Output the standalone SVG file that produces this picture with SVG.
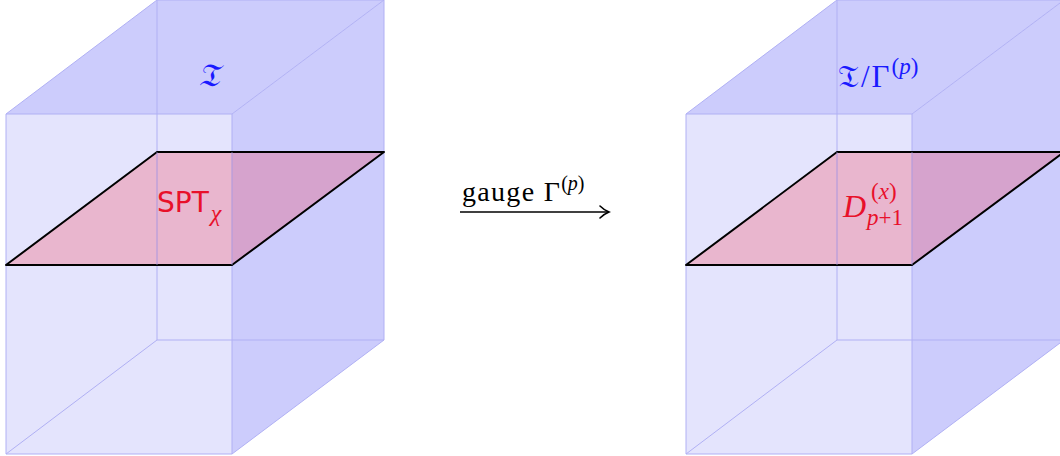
<svg xmlns="http://www.w3.org/2000/svg" width="1060" height="456" viewBox="0 0 1060 456">
<style>
.front{fill:#e4e4fd}
.side{fill:#ccccfc}
.edge{fill:none;stroke:#b0b0f4;stroke-width:1}
.plane{fill:#ff1020;fill-opacity:0.21;stroke:#000;stroke-width:2;stroke-linejoin:round}
.serif{font-family:"Liberation Serif","DejaVu Serif",serif}
.lbl{fill:#1a1aff}
.red{fill:#e8102a}
.sup{letter-spacing:0}
</style>
<defs>
<marker id="arr" markerWidth="12" markerHeight="14" refX="10" refY="7" orient="auto" markerUnits="userSpaceOnUse">
<path d="M1,1 Q5,5 10,7 Q5,9 1,13" fill="none" stroke="#000" stroke-width="1.6" stroke-linecap="round"/>
</marker>
</defs>
<g id="cube-left">
<rect class="front" x="6" y="114" width="226" height="340"/>
<polygon class="side" points="6,114 157,0 384,0 232,114"/>
<polygon class="side" points="232,114 384,0 384,340 232,454"/>
<path class="edge" d="M6,114 L157,0 L384,0 L232,114 Z M232,114 V454 M384,0 V340 L232,454 M6,114 V454 H232 M157,0 V340 H384 M157,340 L6,454"/>
<polygon class="plane" points="6,265 157,152 384,152 232,265"/>
<path class="edge" d="M157,152 V265 M232,152 V265" stroke-opacity="0.6"/>
<text class="serif lbl" x="208" y="86" font-size="32" text-anchor="middle" font-style="italic">𝔗</text>
<text x="157" y="212" font-family="'DejaVu Sans',sans-serif" font-size="28" class="red">SPT<tspan class="serif" font-style="italic" font-size="24" dy="9" dx="2">χ</tspan></text>
</g>
<g id="cube-right">
<rect class="front" x="686" y="114" width="226" height="340"/>
<polygon class="side" points="686,114 837,0 1064,0 912,114"/>
<polygon class="side" points="912,114 1064,0 1064,340 912,454"/>
<path class="edge" d="M686,114 L837,0 L1064,0 L912,114 Z M912,114 V454 M1064,0 V340 L912,454 M686,114 V454 H912 M837,0 V340 H1064 M837,340 L686,454"/>
<polygon class="plane" points="686,265 837,152 1064,152 912,265"/>
<path class="edge" d="M837,152 V265 M912,152 V265" stroke-opacity="0.6"/>
<text class="serif lbl" x="838" y="87" font-size="31" letter-spacing="2">𝔗/Γ<tspan class="sup" font-size="23" dy="-13">(<tspan font-style="italic">p</tspan>)</tspan></text>
<text class="serif red" x="843" y="217" font-size="32" font-style="italic">D</text>
<text class="serif red" x="871" y="199" font-size="23">(<tspan font-style="italic">x</tspan>)</text>
<text class="serif red" x="867" y="225" font-size="23"><tspan font-style="italic">p</tspan>+1</text>
</g>
<g id="connectors">
<line x1="460" y1="212" x2="609" y2="212" stroke="#000" stroke-width="1.6" marker-end="url(#arr)"/>
<text class="serif" x="462" y="201" font-size="28" letter-spacing="1.3">gauge Γ<tspan class="sup" font-size="20" dy="-11">(<tspan font-style="italic">p</tspan>)</tspan></text>
</g>
</svg>
